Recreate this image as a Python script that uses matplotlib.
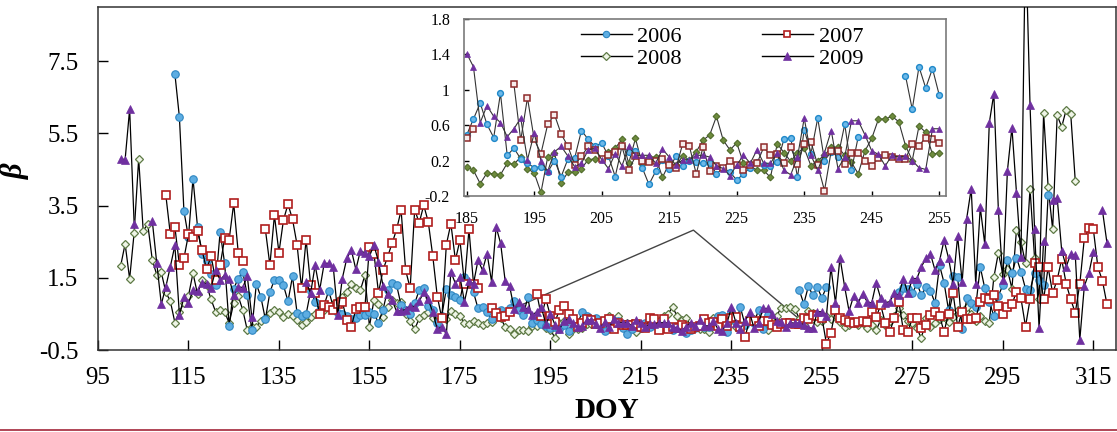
import numpy as np
import matplotlib
matplotlib.use("Agg")
import matplotlib.pyplot as plt
from matplotlib.lines import Line2D
from matplotlib.ticker import FuncFormatter

plt.rcParams['font.family'] = ['Liberation Serif', 'DejaVu Serif']

# dados: beta diario por ano (None = sem dado)
inicio_2006 = 112
beta_2006 = [
    7.15, 5.95, 3.35, 2.62, 4.25, 2.91, 2.16, 1.97, 1.60, 1.30,   # 112
    2.77, 1.90, 0.16, 1.20, 1.48, 1.67, 1.02, 0.05, 1.33, 0.97,   # 122
    0.35, 1.10, 1.45, 1.45, 1.29, 0.85, 1.54, 0.53, 0.44, 0.49,   # 132
    1.13, 0.84, 0.60, 0.75, 1.14, 0.70, 0.53, 0.50, 0.43, 0.35,   # 142
    0.40, 0.48, 0.47, 0.55, 0.50, 0.26, 0.62, 1.15, 1.36, 1.30,   # 152
    0.74, 0.60, 0.50, 0.79, 1.16, 1.23, 0.72, 0.60, 0.25, 0.45,   # 162
    1.20, 1.02, 0.98, 0.88, 1.51, 1.34, 1.10, 0.65, 0.68, 0.55,   # 172
    0.35, 0.55, 0.62, 0.49, 0.67, 0.85, 0.61, 0.46, 0.96, 0.26,   # 182
    0.34, 0.22, 0.17, 0.12, 0.13, 0.07, 0.20, 0.02, 0.22, 0.23,   # 192
    0.54, 0.44, 0.36, 0.40, 0.25, 0.02, 0.36, 0.30, 0.31, 0.12,   # 202
    -0.07, 0.08, 0.21, 0.11, 0.25, 0.14, 0.20, 0.18, 0.17, 0.17,  # 212
    0.05, 0.12, 0.07, -0.02, 0.05, 0.12, 0.18, 0.15, 0.14, 0.18,  # 222
    0.44, 0.46, 0.01, 0.55, 0.28, 0.68, 0.20, 0.30, 0.24, 0.61,   # 232
    0.09, 0.47, None, None, None, None, None, None, 1.16, 0.78,   # 242
    1.26, 1.02, 1.24, 0.94, 1.25, None, None, None, None, None,   # 252
    None, None, None, None, None, None, None, None, None, None,   # 262
    1.10, 1.23, 1.18, 1.07, 1.34, 1.02, 1.25, 1.14, 0.80, 1.85,   # 272
    1.36, 0.60, 1.55, 1.53, 0.08, 0.93, 0.80, 0.70, 1.80, 1.21,   # 282
    0.84, 0.44, 1.00, 1.30, 1.99, 1.62, 2.06, 1.67, 1.20, 1.16,   # 292
    1.62, 1.45, 1.30, 3.79,                                       # 302
]

inicio_2007 = 110
beta_2007 = [
    3.79, 2.70, 2.91, 1.85, 2.04, 2.70, 2.64, 2.79, 2.27, 1.74,   # 110
    2.10, 1.44, 1.85, 2.59, 2.56, 3.56, 2.20, 1.96, None, None,   # 120
    None, None, 2.84, 1.85, 3.23, 2.20, 3.10, 3.54, 3.12, 2.42,   # 130
    1.21, 2.56, 1.30, 1.09, 0.51, 0.75, 0.70, 0.61, 0.77, 0.84,   # 140
    0.33, 0.15, 0.63, 0.68, 0.68, 2.36, 2.17, 1.09, 1.71, 2.08,   # 150
    2.45, 2.84, 3.37, 1.71, 1.21, 3.39, 3.02, 3.51, 3.05, 2.10,   # 160
    0.98, 0.38, 2.42, 3.00, 1.99, 2.54, 1.34, 2.84, 1.34, 1.21,   # 170
    None, None, 0.65, 0.53, 0.42, 0.45, 0.56, None, None, None,   # 180
    None, None, 1.06, 0.43, 0.91, 0.44, 0.28, 0.61, 0.72, 0.50,   # 190
    0.36, 0.15, 0.25, 0.36, 0.32, 0.22, 0.26, 0.30, 0.36, 0.09,   # 200
    0.25, 0.20, 0.18, 0.20, 0.22, 0.15, 0.12, 0.39, 0.36, 0.05,   # 210
    0.35, 0.08, 0.14, 0.12, 0.20, 0.15, 0.09, 0.15, 0.17, 0.35,   # 220
    0.26, 0.27, 0.17, 0.35, 0.16, 0.39, 0.41, 0.15, -0.14, 0.31,  # 230
    0.31, 0.16, 0.29, 0.29, 0.20, 0.14, 0.23, 0.26, 0.24, 0.22,   # 240
    0.22, 0.39, 0.37, 0.46, 0.44, 0.40, -0.32, -0.02, 0.61, 0.40, # 250
    0.33, 0.28, 0.26, 0.28, 0.31, 0.28, 0.56, 0.42, 0.74, 0.26,   # 260
    0.01, 0.38, 0.84, 0.05, 0.01, 0.38, 0.40, 0.10, 0.19, 0.47,   # 270
    0.56, 0.44, 0.01, 0.51, 1.07, 0.15, 0.56, 0.35, 0.35, 0.38,   # 280
    0.84, 0.93, 0.90, 1.02, 0.72, 0.51, 0.70, 0.77, 1.11, 0.93,   # 290
    0.15, 0.90, 1.92, 1.81, 0.90, 1.79, 1.07, 1.45, 2.01, 1.33,   # 300
    0.90, 0.53, 1.33, 2.59, 2.87, 2.84, 1.79, 1.42, 0.77,         # 310
]

inicio_2008 = 100
beta_2008 = [
    1.82, 2.44, 1.47, 2.75, 4.80, 2.80, 2.99, 2.00, 1.58, 1.65,   # 100
    1.10, 0.85, 0.26, 0.56, 0.80, 1.00, 1.63, 1.05, 1.44, 1.30,   # 110
    0.90, 0.56, 0.61, 0.56, 0.24, 0.80, 0.99, 0.61, 0.05, 0.13,   # 120
    0.15, 0.30, 0.38, 0.52, 0.62, 0.56, 0.42, 0.51, 0.45, 0.33,   # 130
    0.19, 0.28, 0.42, 0.51, 0.62, 0.61, 0.70, 0.77, 0.85, 0.98,   # 140
    1.11, 1.34, 1.21, 1.16, 1.57, 0.15, 0.88, 0.77, 0.42, 0.70,   # 150
    0.88, 0.79, 0.84, 0.51, 0.30, 0.07, 0.38, 0.47, 0.55, 0.40,   # 160
    0.28, 0.45, 0.35, 0.59, 0.50, 0.44, 0.24, 0.22, 0.30, 0.25,   # 170
    0.19, 0.24, 0.28, 0.47, 0.40, 0.13, 0.09, -0.06, 0.06, 0.05,  # 180
    0.04, 0.17, 0.16, 0.24, 0.11, 0.06, -0.16, 0.24, 0.29, -0.05, # 190
    0.07, 0.07, 0.11, 0.21, 0.22, 0.22, 0.30, 0.34, 0.44, 0.17,   # 200
    0.45, 0.16, 0.24, 0.24, 0.01, 0.17, 0.15, 0.25, 0.21, 0.30,   # 210
    0.43, 0.49, 0.70, 0.43, 0.32, 0.40, 0.17, 0.14, 0.09, 0.09,   # 220
    0.01, 0.39, 0.29, 0.19, 0.29, 0.34, 0.14, 0.20, 0.26, 0.35,   # 230
    0.35, 0.26, 0.18, 0.05, 0.31, 0.45, 0.67, 0.67, 0.70, 0.64,   # 240
    0.37, 0.20, 0.59, 0.52, 0.27, 0.29, 0.45, 0.35, 0.47, 0.28,   # 250
    0.15, 0.19, 0.26, 0.20, 0.25, 0.10, 0.19, 0.05, 0.33, 0.20,   # 260
    0.30, 0.45, 0.65, 0.47, 0.31, 0.26, 0.10, -0.18, 0.38, 0.15,  # 270
    0.26, 0.35, 0.42, 0.28, 0.42, 0.61, 0.56, 0.70, 0.50, 0.30,   # 280
    0.45, 0.30, 0.26, 1.51, 2.19, 1.60, 1.73, 1.20, 2.82, 2.50,   # 290
    1.90, 3.97, 2.05, 0.90, 6.07, 4.02, 2.84, 6.00, 5.68, 6.16,   # 300
    6.03, 4.18,                                                   # 310
]

inicio_2009 = 100
beta_2009 = [
    4.80, 4.77, 6.17, 2.99, None, None, None, 3.08, 1.90, 0.77,   # 100
    1.25, 1.81, 2.40, 0.47, 0.96, 0.79, 1.16, 1.14, 1.36, 1.34,   # 110
    1.23, 1.71, 1.44, 1.58, 1.48, 1.02, 1.25, 1.23, 1.55, 0.42,   # 120
    None, None, None, None, None, None, None, None, None, None,   # 130
    None, 1.39, 1.07, 1.85, 1.16, 1.90, 1.90, 1.81, 0.47, 1.48,   # 140
    2.04, 2.27, 1.73, 2.25, 2.19, 2.10, 2.40, 1.95, 1.28, 1.05,   # 150
    0.88, 0.57, 0.59, 0.62, 0.72, 0.70, 0.85, 1.10, 0.90, 0.55,   # 160
    0.07, 0.15, -0.06, 1.67, 1.34, 1.53, 0.84, 1.40, 1.34, 1.99,  # 170
    1.71, 2.17, 1.39, 2.91, 2.45, 1.41, 1.26, 0.63, 0.82, 0.70,   # 180
    0.63, 0.47, 0.56, 0.68, 0.21, 0.51, 0.20, 0.08, 0.30, 0.36,   # 190
    0.25, 0.13, 0.17, 0.32, 0.34, 0.21, 0.11, 0.28, 0.14, 0.36,   # 200
    0.26, 0.26, 0.26, 0.17, 0.33, 0.24, 0.15, 0.21, 0.21, 0.26,   # 210
    0.26, 0.24, 0.14, 0.11, 0.03, 0.15, 0.26, 0.17, 0.32, 0.17,   # 220
    0.17, 0.29, 0.09, 0.04, 0.24, 0.68, 0.26, 0.09, 0.29, 0.54,   # 230
    0.11, 0.24, 0.65, 0.65, 0.49, 0.31, 0.27, 0.14, 0.26, 0.24,   # 240
    0.25, 0.20, 0.12, 0.10, 0.56, 0.56, 0.45, 1.79, 0.81, 2.06,   # 250
    1.27, 0.58, 0.99, 0.81, 1.05, 0.84, 0.80, 1.36, 0.93, 0.81,   # 260
    0.84, 1.07, 1.02, 1.48, 1.07, 1.48, 1.48, 1.81, 2.04, 2.16,   # 270
    1.71, 1.97, 2.54, 2.04, 1.34, 2.65, 1.39, 3.14, 3.97, 1.33,   # 280
    3.45, 2.43, 5.79, 6.60, 3.39, 1.44, 4.46, 5.66, 3.85, 2.08,   # 290
    11.0, 6.28, 2.84, 0.10, 2.52, None, 3.65, 3.72, 2.25, 1.81,   # 300
    2.16, 2.13, -0.22, 1.27, 1.62, 2.22, None, 3.37, 2.47,        # 310
]

anos = ['2006', '2007', '2008', '2009']
inicios = {'2006': inicio_2006, '2007': inicio_2007, '2008': inicio_2008, '2009': inicio_2009}
valores = {'2006': beta_2006, '2007': beta_2007, '2008': beta_2008, '2009': beta_2009}

# marcadores do grafico principal
estilo_principal = {
    '2006': dict(marker='o', ms=5.4, mfc='#5DADE2', mec='#2E86C1', mew=0.8),
    '2007': dict(marker='s', ms=5.2, mfc='white', mec='#B01E1E', mew=1.2),
    '2008': dict(marker='D', ms=4.4, mfc='#EEF4E6', mec='#5E7A45', mew=0.9),
    '2009': dict(marker='^', ms=6.2, mfc='#7030A0', mec='#7030A0', mew=0.5),
}
# marcadores do detalhe
estilo_detalhe = {
    '2006': dict(marker='o', ms=4.2, mfc='#6CB8E8', mec='#1F88C9', mew=1.0),
    '2007': dict(marker='s', ms=4.2, mfc='#F7EDED', mec='#8E2A2A', mew=1.1),
    '2008': dict(marker='D', ms=3.4, mfc='#6E8B3D', mec='#4F6B2A', mew=0.8),
    '2009': dict(marker='^', ms=4.8, mfc='#7030A0', mec='#7030A0', mew=0.5),
}
ordem = ['2008', '2006', '2007', '2009']


def serie(ano, de=None, ate=None):
    beta = np.array([np.nan if v is None else v for v in valores[ano]], dtype=float)
    doy = np.arange(inicios[ano], inicios[ano] + len(beta))
    if de is not None:
        fica = (doy >= de) & (doy <= ate)
        doy, beta = doy[fica], beta[fica]
    return doy, beta


fig = plt.figure(figsize=(11.17, 4.32), dpi=100)

# grafico principal
ax = fig.add_axes([0.0877, 0.1898, 0.9114, 0.794])
for ano in ordem:
    doy, beta = serie(ano)
    ax.plot(doy, beta, color='black', lw=0.9, zorder=3, **estilo_principal[ano])

ax.set_xlim(95, 320)
ax.set_ylim(-0.5, 9.0)
ax.set_xticks(np.arange(95, 316, 20))
ax.set_yticks([-0.5, 1.5, 3.5, 5.5, 7.5])
ax.yaxis.set_major_formatter(FuncFormatter(lambda v, p: f'{v:.1f}'))
ax.tick_params(axis='both', direction='in', length=7, width=1, labelsize=18)
ax.tick_params(axis='y', pad=14)
ax.tick_params(axis='x', pad=12)
for lado in ax.spines.values():
    lado.set_color('#333333')
    lado.set_linewidth(1.1)
ax.set_xlabel('DOY', fontsize=21, fontweight='bold', labelpad=6)
ax.set_ylabel('β', fontsize=22, fontweight='bold', style='italic', labelpad=2)
ax.yaxis.set_label_coords(-0.067, 0.52)

# linhas de chamada do detalhe
chamada_doy = [186.8, 226.6, 249.4]
chamada_beta = [0.65, 2.82, 0.42]
ax.plot(chamada_doy, chamada_beta, color='#444444', lw=1.0, zorder=2)

# detalhe 185-255
axd = fig.add_axes([0.4154, 0.5463, 0.4315, 0.4097])
axd.set_facecolor('white')
for ano in ordem:
    doy, beta = serie(ano, 185, 255)
    axd.plot(doy, beta, color='#333333', lw=0.8, **estilo_detalhe[ano])

axd.set_xlim(184.6, 256.0)
axd.set_ylim(-0.2, 1.8)
axd.set_xticks(np.arange(185, 256, 10))
axd.set_yticks([-0.2, 0.2, 0.6, 1.0, 1.4, 1.8])
axd.yaxis.set_major_formatter(FuncFormatter(lambda v, p: f'{v:g}'))
axd.tick_params(axis='both', direction='in', length=3.5, width=1, labelsize=11.5)
axd.tick_params(axis='y', pad=10)
axd.tick_params(axis='x', pad=11)
for lado in axd.spines.values():
    lado.set_color('#7a7a7a')
    lado.set_linewidth(1.2)

# legenda: 2006 2007 / 2008 2009 (preenche por coluna)
alcas = {}
for ano in anos:
    est = dict(estilo_principal[ano])
    est['ms'] = est['ms'] * 0.85
    alcas[ano] = Line2D([], [], color='black', lw=1.0, **est)
ordem_leg = ['2006', '2008', '2007', '2009']
axd.legend([alcas[a] for a in ordem_leg], ordem_leg, ncol=2, loc='upper center',
           bbox_to_anchor=(0.535, 1.07), frameon=False, fontsize=16,
           handlelength=2.3, handletextpad=0.25, columnspacing=3.6,
           labelspacing=0.05)

# linha da borda inferior
fig.add_artist(Line2D([0, 1], [0.0035, 0.0035], color='#A3263A', lw=1.2))

fig.savefig('out.png', dpi=100)
